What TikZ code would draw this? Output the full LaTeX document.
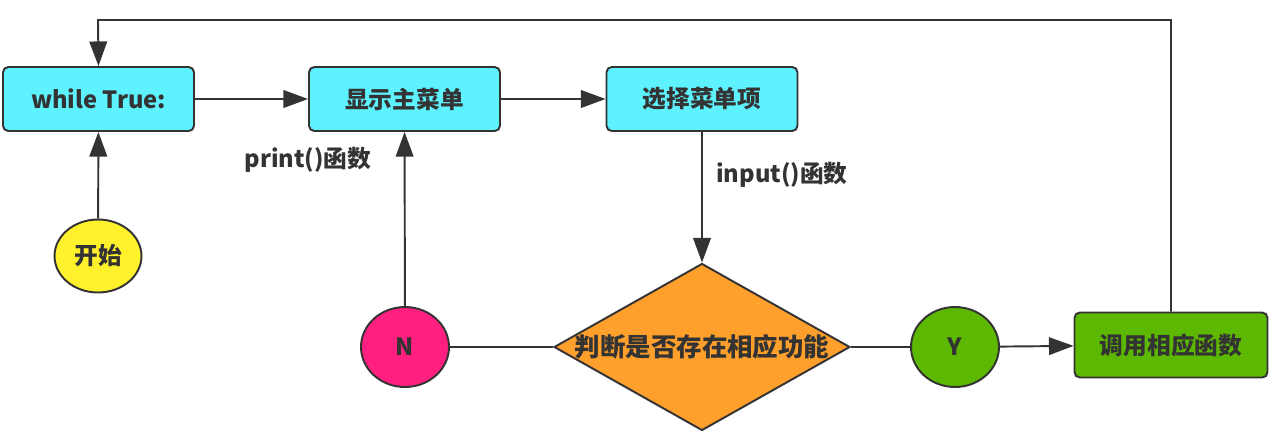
\documentclass[tikz,border=0pt]{standalone}
\usepackage{fontspec}
\setmainfont{Noto Sans CJK SC}
\usetikzlibrary{arrows.meta,shapes.geometric}
\definecolor{linegray}{HTML}{333333}
\definecolor{boxcyan}{HTML}{5EF1FE}
\definecolor{startyellow}{HTML}{FFF12B}
\definecolor{nopink}{HTML}{FF1F80}
\definecolor{askorange}{HTML}{FF9F2C}
\definecolor{yesgreen}{HTML}{5CB800}

\begin{document}
\begin{tikzpicture}[x=0.02cm,y=-0.02cm,
   font=\bfseries\fontsize{13.5}{16}\selectfont,text=linegray,
   >={Triangle[length=14pt,width=10pt]},
   line/.style={draw=linegray,line width=1.1pt},
   proc/.style={line,rounded corners=3pt,minimum width=3.82cm,minimum height=1.28cm,inner sep=0pt},
   oval/.style={line,ellipse,inner sep=0pt,minimum width=1.76cm,minimum height=1.6cm},
   decision/.style={line,diamond,fill=askorange,inner sep=0pt,minimum width=5.92cm,minimum height=3.34cm},
   note/.style={inner sep=1pt}]
  \useasboundingbox (0,0) rectangle (1285,434);
  % top row boxes
  \node[proc,fill=boxcyan] (loop) at (98.5,99) {while True:};
  \node[proc,fill=boxcyan] (menu) at (404.5,99) {显示主菜单};
  \node[proc,fill=boxcyan] (choose) at (702,99) {选择菜单项};
  % start
  \node[oval,fill=startyellow,minimum width=1.74cm,minimum height=1.46cm] (start) at (98,256) {开始};
  % decision row
  \node[decision] (judge) at (702,347) {};
  \node[font=\bfseries\fontsize{14.5}{16}\selectfont] (judgetxt) at (702,347) {判断是否存在相应功能};
  \node[oval,fill=nopink] (no) at (405,347) {N};
  \node[oval,fill=yesgreen] (yes) at (955,347) {Y};
  \node[proc,fill=yesgreen,minimum width=3.86cm,minimum height=1.3cm] (call) at (1171,345) {调用相应函数};
  % labels
  \node[note] (printlbl) at (308,160) {print()函数};
  \node[note] (inputlbl) at (782,175) {input()函数};
  % connectors
  \coordinate (back) at (98,20);
  \draw[line,->] (start) -- (loop);
  \draw[line,->] (loop) -- (menu);
  \draw[line,->] (menu) -- (choose);
  \draw[line,->] (choose) -- (judge.north);
  \draw[line] (judge.west) -- (no);
  \draw[line,->] (no) -- (menu);
  \draw[line] (judge.east) -- (yes);
  \draw[line,->] (yes) -- (call);
  \draw[line,->] (call.north) |- (back) -- (loop.north);
\end{tikzpicture}
\end{document}
